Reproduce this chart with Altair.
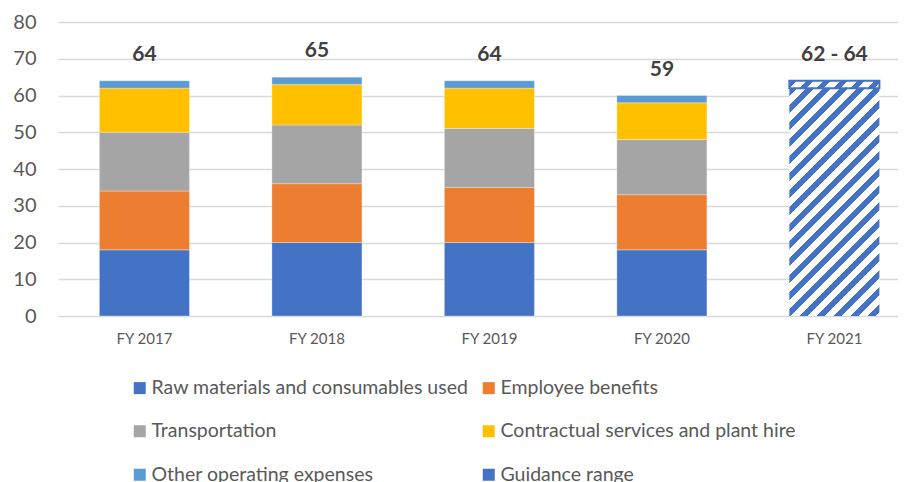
import math
import altair as alt
import pandas as pd

# ---------------- data ----------------
years = ["FY 2017", "FY 2018", "FY 2019", "FY 2020", "FY 2021"]
actual_years = ["FY 2017", "FY 2018", "FY 2019", "FY 2020"]
categories = [
    "Raw materials and consumables used",
    "Employee benefits",
    "Transportation",
    "Contractual services and plant hire",
    "Other operating expenses",
    "Guidance range",
]
colors = ["#4472C4", "#ED7D31", "#A5A5A5", "#FFC000", "#5B9BD5", "#4472C4"]
# legend reading order (two columns, filled column by column)
legend_order = [
    "Raw materials and consumables used",
    "Transportation",
    "Other operating expenses",
    "Employee benefits",
    "Contractual services and plant hire",
    "Guidance range",
]

raw_materials = [18, 20, 20, 18]
employee_benefits = [16, 16, 15, 15]
transportation = [16, 16, 16, 15]
contractual = [12, 11, 11, 10]
other_opex = [2, 2, 2, 2]

guidance_year = "FY 2021"
guidance_low = 62
guidance_high = 64

total_labels = ["64", "65", "64", "59", "62 - 64"]
y_ticks = [0, 10, 20, 30, 40, 50, 60, 70, 80]

# ---------------- tables ----------------
series = [raw_materials, employee_benefits, transportation, contractual, other_opex]
rows = []
for ci, vals in enumerate(series):
    for yi, yr in enumerate(actual_years):
        rows.append({"year": yr, "category": categories[ci], "value": vals[yi], "idx": ci})
df = pd.DataFrame(rows)

totals = [sum(s[i] for s in series) for i in range(len(actual_years))] + [guidance_high]
df_lab = pd.DataFrame({"year": years, "total": totals, "label": total_labels})

df_g_low = pd.DataFrame({"year": [guidance_year], "y0": [0], "y1": [guidance_low]})
df_g_rng = pd.DataFrame({"year": [guidance_year], "y0": [guidance_low], "y1": [guidance_high]})

# ---------------- layout constants ----------------
W, H = 840, 294
P_IN, P_OUT, ALIGN = 0.478, 0.174, 0.69
step = W / (len(years) - P_IN + 2 * P_OUT)
bw = step * (1 - P_IN)
ppu = H / 80.0
FONT = "Lato"
BLUE = "#4472C4"


def hatch(w, h, period=17.0, frac=0.45):
    k = (w + h) / (w * w + h * h)
    a, b = k * w, k * h
    n = (w + h) / period
    stops = [alt.GradientStop(offset=0, color="#ffffff")]
    j = 0
    while j / n < 1:
        s = j / n
        e = min(1.0, s + frac / n)
        stops.append(alt.GradientStop(offset=s, color="#ffffff"))
        stops.append(alt.GradientStop(offset=s, color=BLUE))
        stops.append(alt.GradientStop(offset=e, color=BLUE))
        stops.append(alt.GradientStop(offset=e, color="#ffffff"))
        j += 1
    stops.append(alt.GradientStop(offset=1, color="#ffffff"))
    return alt.LinearGradient(gradient="linear", stops=stops, x1=0, y1=0, x2=a, y2=b)


xscale = alt.Scale(domain=years, paddingInner=P_IN, paddingOuter=P_OUT, align=ALIGN)
yscale = alt.Scale(domain=[0, 80])

xaxis = alt.Axis(
    title=None, domain=False, ticks=False, tickSize=0, labelAngle=0,
    labelFont=FONT, labelFontSize=15, labelColor="#595959", labelPadding=15, grid=False,
)
yaxis = alt.Axis(
    title=None, domain=False, ticks=False, tickSize=0, values=y_ticks, tickCount=9,
    labelOverlap=False,
    labelFont=FONT, labelFontSize=20, labelColor="#595959", labelPadding=22,
    grid=True, gridColor="#d9d9d9", gridWidth=1.3,
)

bars = alt.Chart(df).mark_bar(stroke="#ffffff", strokeWidth=0.5, strokeOpacity=0.6).encode(
    x=alt.X("year:N", scale=xscale, axis=xaxis, sort=years),
    y=alt.Y("value:Q", stack="zero", scale=yscale, axis=yaxis),
    color=alt.Color(
        "category:N",
        scale=alt.Scale(domain=categories, range=colors),
        legend=alt.Legend(
            title=None, orient="none", legendX=72, legendY=356, columns=2,
            values=legend_order,
            symbolType="square", symbolSize=144, symbolStrokeWidth=0,
            labelFont=FONT, labelFontSize=19.5, labelColor="#595959", labelLimit=0,
            rowPadding=22.5, columnPadding=10, labelOffset=2, padding=0,
        ),
    ),
    order=alt.Order("idx:Q", sort="ascending"),
)

g_low = alt.Chart(df_g_low).mark_bar(fill=hatch(bw, guidance_low * ppu)).encode(
    x=alt.X("year:N", scale=xscale, sort=years, axis=xaxis),
    y=alt.Y("y0:Q", scale=yscale, axis=yaxis),
    y2="y1:Q",
)

g_rng = alt.Chart(df_g_rng).mark_bar(
    fill=hatch(bw, (guidance_high - guidance_low) * ppu), stroke=BLUE, strokeWidth=2
).encode(
    x=alt.X("year:N", scale=xscale, sort=years, axis=xaxis),
    y=alt.Y("y0:Q", scale=yscale, axis=yaxis),
    y2="y1:Q",
)

labels = alt.Chart(df_lab).mark_text(
    font=FONT, fontSize=21, fontWeight="bold", color="#404040", dy=-26, baseline="middle"
).encode(
    x=alt.X("year:N", scale=xscale, sort=years, axis=xaxis),
    y=alt.Y("total:Q", scale=yscale, axis=yaxis),
    text="label:N",
)

chart = alt.layer(bars, g_low, g_rng, labels).properties(
    width=W, height=H,
    padding={"left": 50, "top": 14, "right": 0, "bottom": 166},
    autosize=alt.AutoSizeParams(type="none"),
    background="white",
).configure_view(stroke=None)

chart.save("out.html", embed_options={"renderer": "svg", "actions": False})
